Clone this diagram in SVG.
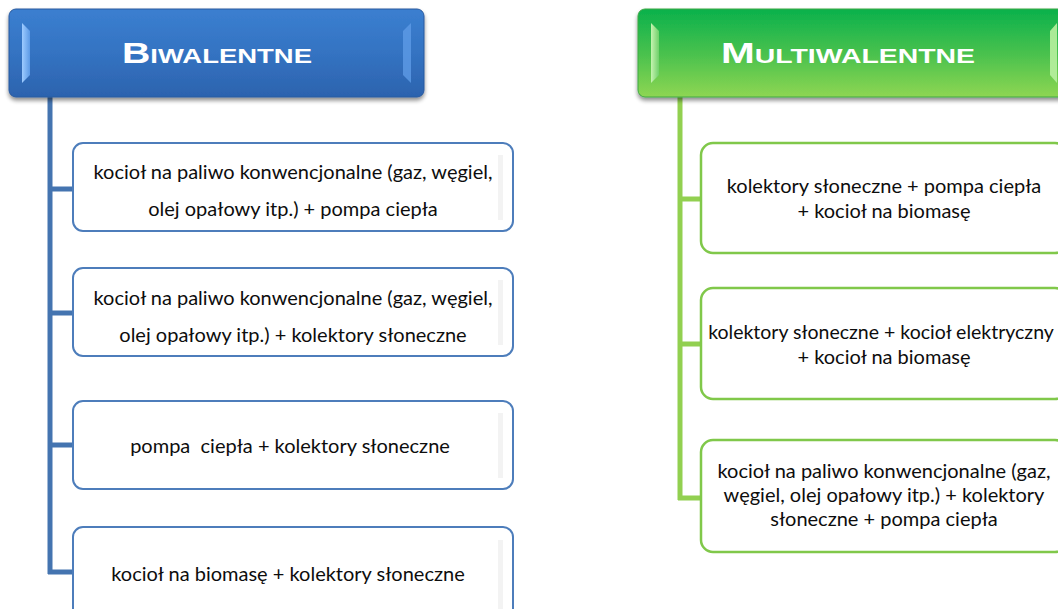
<svg xmlns="http://www.w3.org/2000/svg" width="1058" height="609" viewBox="0 0 1058 609">
<defs>
<linearGradient id="gBlue" x1="0" y1="0" x2="0" y2="1">
<stop offset="0" stop-color="#3b7fd0"/>
<stop offset="0.5" stop-color="#3473c2"/>
<stop offset="1" stop-color="#2c63ae"/>
</linearGradient>
<linearGradient id="gGreen" x1="0" y1="0" x2="0" y2="1">
<stop offset="0" stop-color="#0ab14c"/>
<stop offset="0.5" stop-color="#48c14e"/>
<stop offset="1" stop-color="#8ed652"/>
</linearGradient>
<linearGradient id="bevB" x1="0" y1="0" x2="1" y2="0">
<stop offset="0" stop-color="#9dcbff"/>
<stop offset="1" stop-color="#5c9ae6"/>
</linearGradient>
<linearGradient id="bevG" x1="0" y1="0" x2="1" y2="0">
<stop offset="0" stop-color="#c6f3b0"/>
<stop offset="1" stop-color="#6fd06a"/>
</linearGradient>
<filter id="sh" x="-5%" y="-10%" width="110%" height="130%">
<feGaussianBlur in="SourceAlpha" stdDeviation="2"/>
<feOffset dy="3"/>
<feComponentTransfer><feFuncA type="linear" slope="0.45"/></feComponentTransfer>
<feMerge><feMergeNode/><feMergeNode in="SourceGraphic"/></feMerge>
</filter>
</defs>
<style>
.hdrText{font-family:"Liberation Sans",Arial,sans-serif;font-weight:bold;fill:#ffffff}
.txt{font-family:Lato,"Open Sans",sans-serif;font-size:20px;fill:#0d0d0d;text-anchor:middle}
.boxB{fill:#ffffff;stroke:#4d7dbb;stroke-width:2}
.boxG{fill:#ffffff;stroke:#80c84a;stroke-width:2.5}
.strip{fill:#f3f3f3}
.connB{stroke:#4474b0;stroke-width:5;fill:none}
.connG{stroke:#92d050;stroke-width:5;fill:none}
</style>
<rect width="1058" height="609" fill="#ffffff"/>

<g id="connectors">
<path class="connB" d="M50 97 V574 M48 189 H73 M48 313 H73 M48 445 H73 M48 572 H73"/>
<path class="connG" d="M680 97 V500 M678 199 H701 M678 344 H701 M678 498 H701"/>
</g>

<g id="hdr-biwalentne">
<rect x="9" y="9" width="415" height="88" rx="7" fill="url(#gBlue)" stroke="#295a9e" stroke-width="1" filter="url(#sh)"/>
<polygon points="22,23 30,31 30,75 22,83" fill="url(#bevB)"/>
<polygon points="411,23 403,31 403,75 411,83" fill="#5e9be6" opacity="0.8"/>
<text class="hdrText" x="217" y="63" text-anchor="middle" textLength="190" lengthAdjust="spacingAndGlyphs"><tspan font-size="30">B</tspan><tspan font-size="21">IWALENTNE</tspan></text>
</g>

<g id="hdr-multiwalentne">
<rect x="638" y="9" width="440" height="88" rx="7" fill="url(#gGreen)" stroke="#3ea845" stroke-width="1" filter="url(#sh)"/>
<polygon points="651,23 659,31 659,75 651,83" fill="url(#bevG)"/>
<polygon points="1057,23 1050,31 1050,75 1057,83" fill="#b8f0a0" opacity="0.9"/>
<text class="hdrText" x="848" y="63" text-anchor="middle" textLength="254" lengthAdjust="spacingAndGlyphs"><tspan font-size="30">M</tspan><tspan font-size="21">ULTIWALENTNE</tspan></text>
</g>

<g id="b1">
<rect class="boxB" x="73" y="143" width="440" height="88" rx="10"/>
<rect class="strip" x="498" y="155" width="5" height="65"/>
<text class="txt" x="293" y="179">kocioł na paliwo konwencjonalne (gaz, węgiel,</text>
<text class="txt" x="293" y="216">olej opałowy itp.) + pompa ciepła</text>
</g>
<g id="b2">
<rect class="boxB" x="73" y="268" width="440" height="88" rx="10"/>
<rect class="strip" x="498" y="280" width="5" height="65"/>
<text class="txt" x="293" y="305">kocioł na paliwo konwencjonalne (gaz, węgiel,</text>
<text class="txt" x="293" y="342">olej opałowy itp.) + kolektory słoneczne</text>
</g>
<g id="b3">
<rect class="boxB" x="73" y="401" width="440" height="88" rx="10"/>
<rect class="strip" x="498" y="413" width="5" height="65"/>
<text class="txt" x="290" y="453" xml:space="preserve">pompa  ciepła + kolektory słoneczne</text>
</g>
<g id="b4">
<rect class="boxB" x="73" y="527" width="440" height="100" rx="10"/>
<rect class="strip" x="498" y="540" width="5" height="69"/>
<text class="txt" x="288" y="581">kocioł na biomasę + kolektory słoneczne</text>
</g>

<g id="m1">
<rect class="boxG" x="701" y="143" width="366" height="110" rx="12"/>
<text class="txt" x="884" y="193">kolektory słoneczne + pompa ciepła</text>
<text class="txt" x="884" y="218">+ kocioł na biomasę</text>
</g>
<g id="m2">
<rect class="boxG" x="701" y="288" width="366" height="111" rx="12"/>
<text class="txt" x="881" y="339" style="font-size:19.5px">kolektory słoneczne + kocioł elektryczny</text>
<text class="txt" x="884" y="364">+ kocioł na biomasę</text>
</g>
<g id="m3">
<rect class="boxG" x="701" y="440" width="366" height="112" rx="12"/>
<text class="txt" x="884" y="478">kocioł na paliwo konwencjonalne (gaz,</text>
<text class="txt" x="884" y="502">węgiel, olej opałowy itp.) + kolektory</text>
<text class="txt" x="884" y="526">słoneczne + pompa ciepła</text>
</g>
</svg>
